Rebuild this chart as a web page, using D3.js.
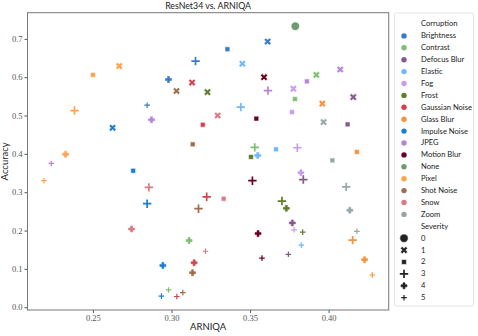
<!DOCTYPE html>
<html>
<head>
<meta charset="utf-8">
<title>ResNet34 vs. ARNIQA</title>
<script src="https://cdn.jsdelivr.net/npm/d3@7"></script>
<style>
	body { margin: 0; background: #fff; }
	.tick text { font-family: "Liberation Serif", serif; font-size: 8.5px; fill: #555; }
	.tick line { stroke: #555; }
	.lbl { font-family: Lato, "DejaVu Sans", sans-serif; fill: #222; }
	.leg text { font-family: Lato, "DejaVu Sans", sans-serif; font-size: 7.6px; fill: #222; }
</style>
</head>
<body>
<div id="chart"></div>
<script>
var corruptions = ["Brightness", "Contrast", "Defocus Blur", "Elastic", "Fog", "Frost",
	"Gaussian Noise", "Glass Blur", "Impulse Noise", "JPEG", "Motion Blur", "None",
	"Pixel", "Shot Noise", "Snow", "Zoom"];
var palette = ["#3a78c9", "#7fbf72", "#86598f", "#70b8fa", "#c79df0", "#5f7d2c",
	"#d6404e", "#f5933f", "#1a7fd1", "#b784d8", "#6b0020", "#6e9b6e",
	"#ffa24c", "#a06c4b", "#d97b85", "#97a7a8"];
var severities = ["0", "1", "2", "3", "4", "5"];

// ARNIQA score per corruption, severity 1..5 (None only has severity 0)
var arniqa = [
	[0.3612, 0.3356, 0.3153, 0.2981, 0.2845],
	[0.3922, 0.3786, 0.3530, 0.3112, 0.2981],
	[0.4157, 0.4121, 0.3839, 0.3769, 0.3744],
	[0.3451, 0.3665, 0.3441, 0.3549, 0.3826],
	[0.3776, 0.3767, 0.3801, 0.3824, 0.3780],
	[0.3229, 0.3506, 0.3703, 0.3731, 0.3835],
	[0.3131, 0.3199, 0.3224, 0.3144, 0.3034],
	[0.3960, 0.4180, 0.4153, 0.4229, 0.4278],
	[0.2625, 0.2756, 0.2845, 0.2945, 0.2936],
	[0.4074, 0.3862, 0.3614, 0.2873, 0.2235],
	[0.3589, 0.3540, 0.3515, 0.3551, 0.3576],
	[0.3788],
	[0.2667, 0.2500, 0.2383, 0.2326, 0.2188],
	[0.3032, 0.3135, 0.3172, 0.3134, 0.3072],
	[0.3294, 0.3332, 0.2856, 0.2746, 0.3216],
	[0.3968, 0.4024, 0.4112, 0.4135, 0.4180]
];
// top-1 accuracy, same layout
var accuracy = [
	[0.693, 0.673, 0.642, 0.594, 0.527],
	[0.606, 0.543, 0.417, 0.174, 0.045],
	[0.548, 0.477, 0.333, 0.220, 0.138],
	[0.635, 0.412, 0.522, 0.396, 0.162],
	[0.570, 0.509, 0.416, 0.351, 0.202],
	[0.561, 0.392, 0.277, 0.258, 0.196],
	[0.586, 0.476, 0.288, 0.116, 0.028],
	[0.531, 0.405, 0.175, 0.124, 0.084],
	[0.468, 0.356, 0.270, 0.109, 0.029],
	[0.620, 0.589, 0.565, 0.489, 0.375],
	[0.600, 0.492, 0.330, 0.192, 0.128],
	[0.733],
	[0.629, 0.606, 0.513, 0.399, 0.330],
	[0.564, 0.425, 0.257, 0.090, 0.038],
	[0.500, 0.283, 0.3125, 0.204, 0.146],
	[0.483, 0.383, 0.314, 0.253, 0.198]
];
var xTicks = [0.25, 0.30, 0.35, 0.40];
var yTicks = [0, 0.1, 0.2, 0.3, 0.4, 0.5, 0.6, 0.7];

var points = [];
corruptions.forEach(function(c, i) {
	arniqa[i].forEach(function(v, j) {
		points.push({ c: c, sev: c === "None" ? 0 : j + 1, x: v, y: accuracy[i][j] });
	});
});

var W = 478, H = 336;
var margin = { top: 12.7, right: 89.3, bottom: 26, left: 27.5 };
var w = W - margin.left - margin.right, h = H - margin.top - margin.bottom;

var svg = d3.select("#chart").append("svg")
	.attr("width", W).attr("height", H)
	.style("font-family", "Lato, sans-serif");

function padded(ext) {
	var p = (ext[1] - ext[0]) * 0.05;
	return [ext[0] - p, ext[1] + p];
}
var x = d3.scaleLinear().domain(padded(d3.extent(points, function(d) { return d.x; }))).range([0, w]);
var y = d3.scaleLinear().domain(padded(d3.extent(points, function(d) { return d.y; }))).range([h, 0]);
var color = d3.scaleOrdinal().domain(corruptions).range(palette);

var g = svg.append("g").attr("transform", "translate(" + margin.left + "," + margin.top + ")");

g.append("g").attr("transform", "translate(0," + h + ")")
	.call(d3.axisBottom(x).tickValues(xTicks).tickFormat(d3.format(".2f")).tickSize(3).tickPadding(2))
	.call(function(a) { a.select(".domain").remove(); });
g.append("g")
	.call(d3.axisLeft(y).tickValues(yTicks).tickFormat(d3.format(".1f")).tickSize(3).tickPadding(2))
	.call(function(a) { a.select(".domain").remove(); });

g.append("rect").attr("width", w).attr("height", h)
	.attr("fill", "none").attr("stroke", "#777").attr("stroke-width", 1);

// one shape per severity
function drawMarker(sel, sev, col) {
	var sym;
	if (sev === 0) {
		sel.append("circle").attr("r", 4.2).attr("fill", col).attr("stroke", "#fff").attr("stroke-width", 0.6);
	} else if (sev === 1) {
		sym = d3.symbol().type(d3.symbolCross).size(32);
		sel.append("path").attr("d", sym()).attr("transform", "rotate(45)")
			.attr("fill", col).attr("stroke", "#fff").attr("stroke-width", 0.5);
	} else if (sev === 2) {
		sel.append("path").attr("d", d3.symbol().type(d3.symbolSquare).size(23)())
			.attr("fill", col).attr("stroke", "#fff").attr("stroke-width", 0.5);
	} else if (sev === 3) {
		sel.append("path").attr("d", "M-4.2,0H4.2M0,-4.2V4.2")
			.attr("stroke", col).attr("stroke-width", 1.7).attr("fill", "none");
	} else if (sev === 4) {
		sel.append("path").attr("d", d3.symbol().type(d3.symbolCross).size(20)())
			.attr("fill", col).attr("stroke", col).attr("stroke-width", 0.6).attr("stroke-linejoin", "round");
	} else {
		sel.append("path").attr("d", "M-2.8,0H2.8M0,-2.8V2.8")
			.attr("stroke", col).attr("stroke-width", 1.2).attr("fill", "none");
	}
}

g.selectAll("g.pt").data(points).enter().append("g")
	.attr("class", "pt")
	.attr("transform", function(d) { return "translate(" + x(d.x) + "," + y(d.y) + ")"; })
	.each(function(d) { drawMarker(d3.select(this), d.sev, color(d.c)); });

// title and axis labels
svg.append("text").attr("class", "lbl")
	.attr("x", margin.left + w / 2).attr("y", 9)
	.attr("text-anchor", "middle").style("font-size", "8.8px")
	.text("ResNet34 vs. ARNIQA");
svg.append("text").attr("class", "lbl")
	.attr("x", margin.left + w / 2).attr("y", 330)
	.attr("text-anchor", "middle").style("font-size", "9.5px")
	.text("ARNIQA");
svg.append("text").attr("class", "lbl")
	.attr("transform", "translate(8," + (margin.top + h / 2) + ") rotate(-90)")
	.attr("text-anchor", "middle").style("font-size", "9.5px")
	.text("Accuracy");

// legend
var leg = svg.append("g").attr("class", "leg");
leg.append("rect").attr("x", 394.5).attr("y", 13).attr("width", 79).attr("height", 293)
	.attr("rx", 2).attr("fill", "#fff").attr("stroke", "#ddd").attr("stroke-width", 0.8);

var rows = [{ t: "Corruption" }];
corruptions.forEach(function(c) { rows.push({ t: c, c: c }); });
rows.push({ t: "Severity" });
severities.forEach(function(s) { rows.push({ t: s, s: +s }); });

var row = leg.selectAll("g.row").data(rows).enter().append("g")
	.attr("class", "row")
	.attr("transform", function(d, i) { return "translate(0," + (24 + i * 11.9) + ")"; });
row.append("text").attr("x", 421).attr("dy", "0.32em").text(function(d) { return d.t; });
row.each(function(d) {
	var m = d3.select(this).append("g").attr("transform", "translate(404,0)");
	if (d.c) m.append("circle").attr("r", 2.7).attr("fill", color(d.c));
	else if (d.s !== undefined) drawMarker(m, d.s, "#222");
});
</script>
</body>
</html>
